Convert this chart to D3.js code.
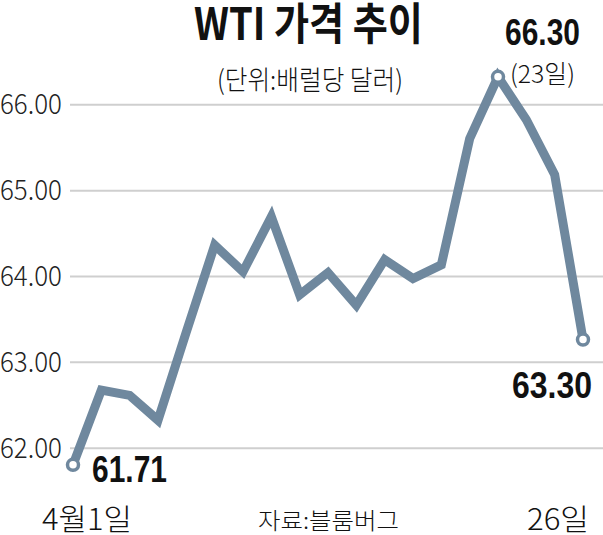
<!DOCTYPE html>
<html><head><meta charset="utf-8">
<script src="https://cdn.jsdelivr.net/npm/d3@7"></script>
<style>html,body{margin:0;padding:0;background:#fff;}svg{display:block;}</style>
</head><body>
<script>
const days = ["4/1","4/2","4/3","4/4","4/5","4/8","4/9","4/10","4/11","4/12","4/15","4/16","4/17","4/18","4/22","4/23","4/24","4/25","4/26"];
const prices = [61.80,62.67,62.61,62.32,63.35,64.36,64.05,64.69,63.78,64.04,63.66,64.19,63.97,64.13,65.60,66.32,65.82,65.18,63.26];
const yTicks = [62,63,64,65,66];
const yTickLabels = ["62.00","63.00","64.00","65.00","66.00"];
const markerIdx = [0,15,18];
const title = "WTI 가격 추이";
const unit = "(단위:배럴당 달러)";
const source = "자료:블룸버그";
const xStart = "4월1일", xEnd = "26일";
const labelFirst = "61.71", labelPeak = "66.30", labelPeakDay = "(23일)", labelLast = "63.30";

const W = 603, H = 535;
const svg = d3.select("body").append("svg").attr("width", W).attr("height", H);
const x = d3.scalePoint().domain(days).range([73, 583]);
const y = d3.scaleLinear().domain([62, 66]).range([447.7, 104.3]);
const lineColor = "#6f889e";
const num = "'Liberation Sans', 'Noto Sans CJK KR', sans-serif";
const kr = "'Noto Sans CJK KR', sans-serif";

// condensed text helper: scales glyphs horizontally to a target width
function ctext(t, left, base, size, weight, width, fam) {
  const gg = svg.append("g");
  const e = gg.append("text").attr("x", 0).attr("y", 0).text(t)
    .attr("font-family", fam || kr).attr("font-size", size).attr("font-weight", weight)
    .attr("fill", "#111");
  const nat = e.node().getComputedTextLength() || width;
  gg.attr("transform", `translate(${left},${base}) scale(${width / nat},1)`);
  return e;
}

// gridlines via axis
const yAxis = d3.axisLeft(y).tickValues(yTicks).tickSize(-(W - 70)).tickFormat(() => "");
const g = svg.append("g").attr("transform", "translate(70,0)").call(yAxis);
g.select(".domain").remove();
g.selectAll(".tick line").attr("stroke", "#cfcfcf").attr("stroke-width", 2);
yTicks.forEach((v, i) => {
  ctext(yTickLabels[i], 0, y(v) + 10, 28, 300, 62, kr).attr("fill", "#222");
});

// line
const line = d3.line().x((d,i) => x(days[i])).y(d => y(d));
svg.append("path").datum(prices).attr("d", line)
  .attr("fill", "none").attr("stroke", lineColor).attr("stroke-width", 9)
  .attr("stroke-linejoin", "miter").attr("stroke-miterlimit", 3);

svg.selectAll("circle.m").data(markerIdx).enter().append("circle")
  .attr("cx", i => x(days[i])).attr("cy", i => y(prices[i])).attr("r", 5.5)
  .attr("fill", "#fff").attr("stroke", lineColor).attr("stroke-width", 3.5);

ctext(title, 194, 40, 44, 700, 229);
ctext(unit, 217, 90, 27, 300, 186);
ctext(labelPeak, 505, 45, 37, 700, 75, num);
ctext(labelPeakDay, 510, 83, 25, 300, 65);
ctext(labelLast, 512, 398, 37, 700, 80, num);
ctext(labelFirst, 92, 482, 37, 700, 75, num);
ctext(xStart, 42, 530, 30, 300, 90);
ctext(source, 258, 529, 23, 300, 141);
ctext(xEnd, 527, 530, 30, 300, 62);
</script>
</body></html>
